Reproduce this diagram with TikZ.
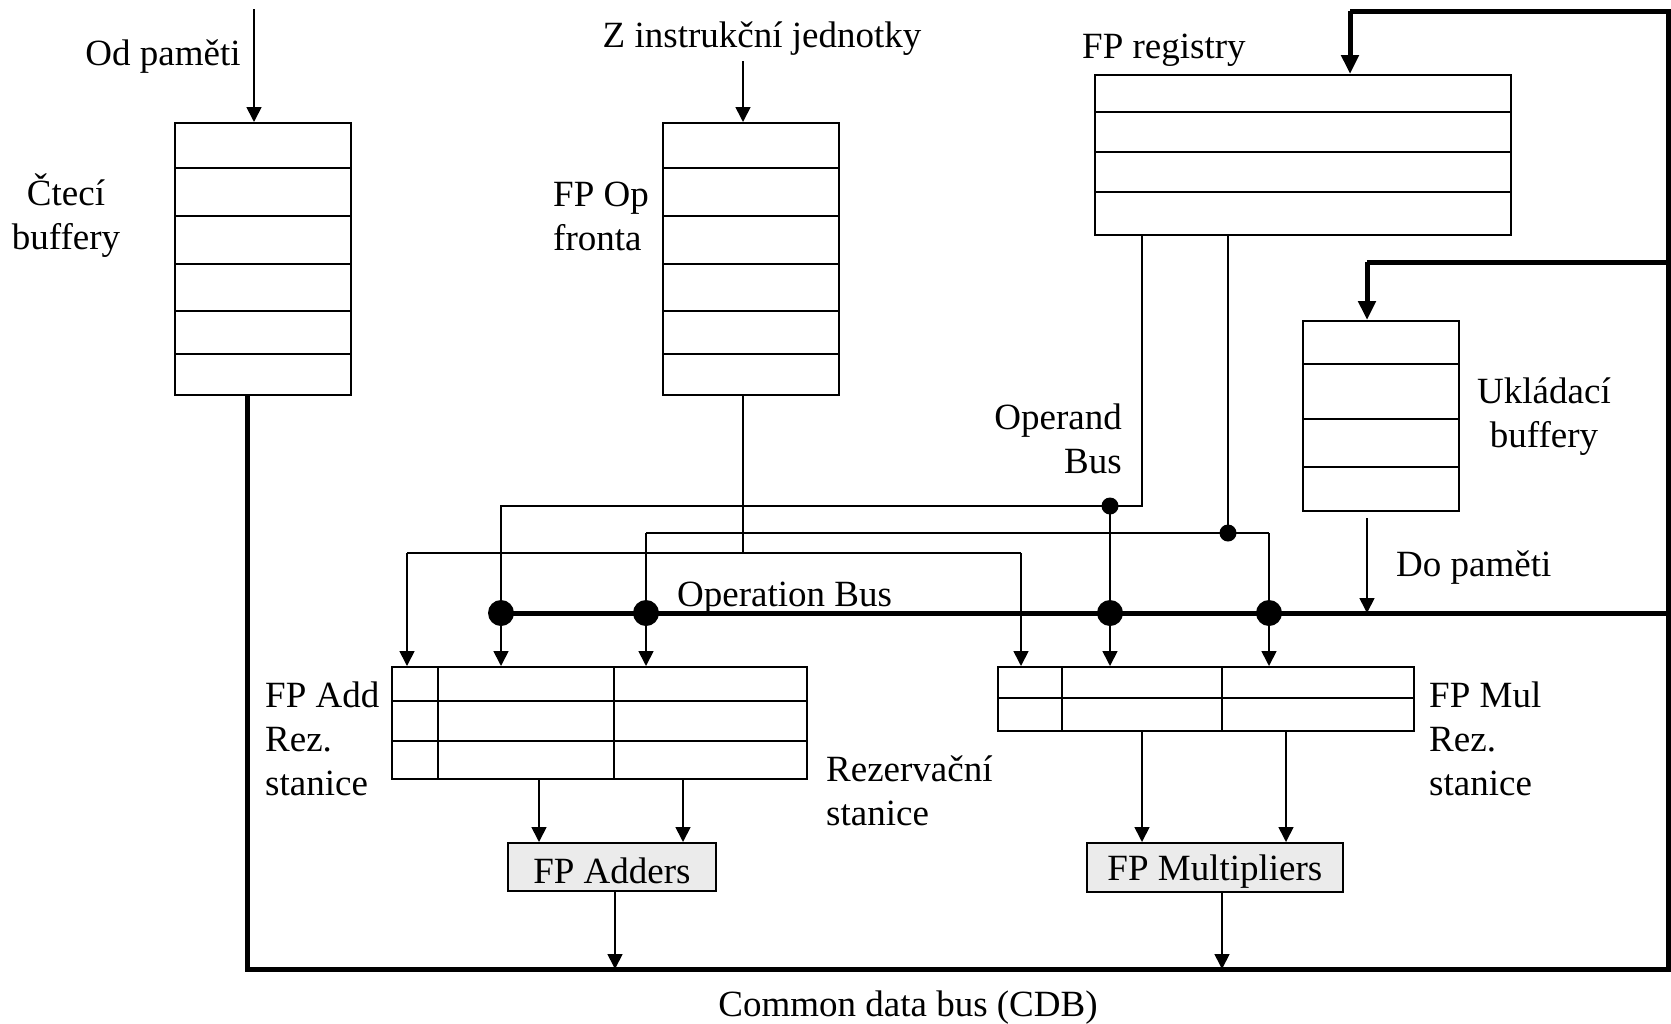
\documentclass[tikz,border=0pt]{standalone}
\usepackage{fontspec}
\setmainfont{Liberation Serif}
\usetikzlibrary{arrows.meta,calc}

\begin{document}
\begin{tikzpicture}[x=1pt,y=-1pt,
  every node/.style={font=\fontsize{37}{44}\selectfont, inner sep=0pt},
  txt/.style={yshift=-4pt},
  box/.style={draw, line width=1.8pt, anchor=north west, fill=white},
  unit/.style={box, fill=black!8},
  grid/.style={line width=1.8pt},
  wire/.style={line width=1.7pt},
  arr/.style={wire, -{Triangle[length=15pt,width=15pt]}},
  bus/.style={line width=5pt},
  busarr/.style={bus, -{Triangle[length=19pt,width=17pt]}},
  bigdot/.style={circle, fill=black, minimum size=26pt},
  smalldot/.style={circle, fill=black, minimum size=17pt},
  lbl/.style={txt, align=left, anchor=west}
]
\useasboundingbox (0,0) rectangle (1671,1023);

% ---- buffers and register file ----
\node[box, minimum width=176pt, minimum height=272pt] (rb) at (174,122) {};
\foreach \y in {168,216,264,311,354} \draw[grid] (174,\y) -- (350,\y);

\node[box, minimum width=176pt, minimum height=272pt] (opq) at (662,122) {};
\foreach \y in {168,216,264,311,354} \draw[grid] (662,\y) -- (838,\y);

\node[box, minimum width=416pt, minimum height=160pt] (fpreg) at (1094,74) {};
\foreach \y in {112,152,192} \draw[grid] (1094,\y) -- (1510,\y);

\node[box, minimum width=156pt, minimum height=190pt] (sb) at (1302,320) {};
\foreach \y in {364,419,467} \draw[grid] (1302,\y) -- (1458,\y);

% ---- reservation stations ----
\node[box, minimum width=415pt, minimum height=112pt] (addrs) at (391,666) {};
\foreach \y in {701,741} \draw[grid] (391,\y) -- (806,\y);
\foreach \x in {438,614} \draw[grid] (\x,666) -- (\x,778);

\node[box, minimum width=416pt, minimum height=64pt] (mulrs) at (997,666) {};
\draw[grid] (997,698) -- (1413,698);
\foreach \x in {1062,1222} \draw[grid] (\x,666) -- (\x,730);

% ---- functional units ----
\node[unit, minimum width=208pt, minimum height=48pt] (fpadd) at (507,842) {};
\node[txt] at (fpadd.center) {FP Adders};
\node[unit, minimum width=256pt, minimum height=49pt] (fpmul) at (1086,842) {};
\node[txt] at (fpmul.center) {FP Multipliers};

% ---- labels ----
\node[txt] (lodp) at (163,53) {Od paměti};
\node[txt] (lzin) at (762,35) {Z instrukční jednotky};
\node[txt, align=center] (lrb) at (66,212) {Čtecí\\buffery};
\node[lbl] (lopq) at (553,212) {FP Op\\fronta};
\node[lbl] (lreg) at (1082,46) {FP registry};
\node[txt, align=right, anchor=east] (lopb) at (1122,435) {Operand\\Bus};
\node[txt, align=center] (lsb) at (1544,413) {Ukládací\\buffery};
\node[lbl] (ldo) at (1396,564) {Do paměti};
\node[lbl] (lopn) at (677,594) {Operation Bus};
\node[lbl] (ladd) at (265,735) {FP Add\\Rez.\\stanice};
\node[lbl] (lrez) at (826,787) {Rezervační\\stanice};
\node[lbl] (lmul) at (1429,735) {FP Mul\\Rez.\\stanice};
\node[txt] (lcdb) at (908,1004) {Common data bus (CDB)};

% ---- inputs from outside ----
\coordinate (memin) at (254,9);
\coordinate (instin) at (743,61);
\draw[arr] (memin) -- (memin |- rb.north);
\draw[arr] (instin) -- (instin |- opq.north);

% ---- common data bus ----
\coordinate (cdbL) at (247,969);
\coordinate (cdbR) at (1668,969);
\coordinate (cdbT) at (1668,11);
\coordinate (regin) at (1350,11);
\coordinate (sbtap) at (1668,262);
\coordinate (sbin) at (1367,262);
\coordinate (rstap) at (1668,613);

\node[bigdot] (d1) at (501,613) {};
\node[bigdot] (d2) at (646,613) {};
\node[bigdot] (d3) at (1110,613) {};
\node[bigdot] (d4) at (1269,613) {};

\draw[bus] (rb.south -| cdbL) -- (cdbL) -- (cdbR) -- (cdbT) -- (regin);
\draw[busarr] (regin) -- (regin |- fpreg.north);
\draw[bus] (sbtap) -- (sbin);
\draw[busarr] (sbin) -- (sbin |- sb.north);
\draw[bus] (rstap) -- (d1.center);

% ---- operand bus ----
\coordinate (j1) at (1142,506);
\coordinate (j2) at (1228,533);
\node[smalldot] (s1) at (1110,506) {};
\node[smalldot] (s2) at (j2) {};
\draw[wire] (fpreg.south -| j1) -- (j1) -- (d1 |- j1) -- (d1.center);
\draw[arr] (d1.center) -- (d1 |- addrs.north);
\draw[wire] (s1.center) -- (d3.center);
\draw[arr] (d3.center) -- (d3 |- mulrs.north);
\draw[wire] (fpreg.south -| j2) -- (j2);
\draw[wire] (d2 |- j2) -- (d4 |- j2);
\draw[wire] (d2 |- j2) -- (d2.center);
\draw[arr] (d2.center) -- (d2 |- addrs.north);
\draw[wire] (d4 |- j2) -- (d4.center);
\draw[arr] (d4.center) -- (d4 |- mulrs.north);

% ---- operation bus ----
\coordinate (ob) at (743,553);
\coordinate (obL) at (407,553);
\coordinate (obR) at (1021,553);
\draw[wire] (opq.south -| ob) -- (ob);
\draw[wire] (obL) -- (obR);
\draw[arr] (obL) -- (obL |- addrs.north);
\draw[arr] (obR) -- (obR |- mulrs.north);

% ---- store buffers to memory ----
\coordinate (sbout) at (1367,518);
\draw[arr] (sbout) -- (sbout |- rstap);

% ---- stations to units, units to CDB ----
\foreach \x in {539,683} \draw[arr] (\x,778) -- (\x,842);
\foreach \x in {1142,1286} \draw[arr] (\x,730) -- (\x,842);
\draw[arr] (fpadd.south -| 615,0) -- (615,969);
\draw[arr] (fpmul.south -| 1222,0) -- (1222,969);
\end{tikzpicture}
\end{document}
